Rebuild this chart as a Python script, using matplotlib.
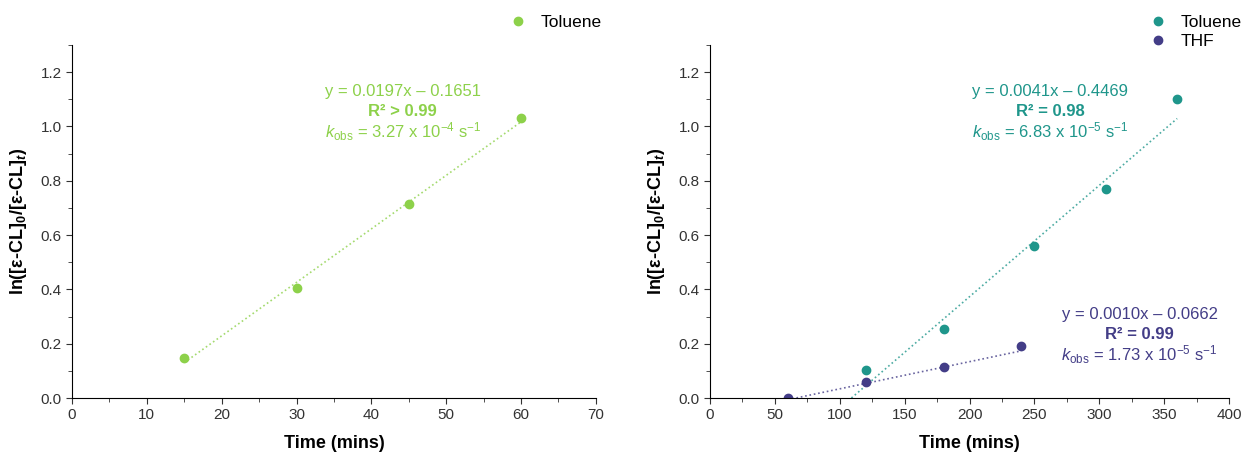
import numpy as np
import matplotlib
matplotlib.use('Agg')
import matplotlib.pyplot as plt
from matplotlib.ticker import MultipleLocator

plt.rcParams['font.family'] = ['Liberation Sans', 'DejaVu Sans']
plt.rcParams['mathtext.fontset'] = 'custom'
plt.rcParams['mathtext.rm'] = 'Liberation Sans'
plt.rcParams['mathtext.it'] = 'Liberation Sans:italic'
plt.rcParams['mathtext.bf'] = 'Liberation Sans:bold'
plt.rcParams['mathtext.bfit'] = 'Liberation Sans:italic:bold'

green = '#8dd14a'
teal = '#1f968b'
purple = '#433d87'

# left panel: toluene
tol_a_t = [15, 30, 45, 60]
tol_a_y = [0.148, 0.405, 0.713, 1.03]
fit_a = (0.0197, -0.1651)

# right panel
tol_b_t = [120, 180, 250, 305, 360]
tol_b_y = [0.105, 0.255, 0.56, 0.77, 1.10]
fit_tol_b = (0.0041, -0.4469)

thf_t = [60, 120, 180, 240]
thf_y = [0.0, 0.06, 0.113, 0.19]
fit_thf = (0.0010, -0.0662)

ylabel = r'ln([ε-CL]$_\mathbf{0}$/[ε-CL]$_\mathbfit{t}$)'

fig = plt.figure(figsize=(12.44, 4.54), dpi=100)
ax1 = fig.add_axes([0.0579, 0.1233, 0.4211, 0.7777])
ax2 = fig.add_axes([0.5707, 0.1233, 0.4173, 0.7777])


def style(ax, xmax, xmaj, xmin):
    for s in ['top', 'right']:
        ax.spines[s].set_visible(False)
    ax.set_xlim(0, xmax)
    ax.set_ylim(0, 1.3)
    ax.xaxis.set_major_locator(MultipleLocator(xmaj))
    ax.xaxis.set_minor_locator(MultipleLocator(xmin))
    ax.yaxis.set_minor_locator(MultipleLocator(0.1))
    ax.set_yticks(np.arange(0, 1.21, 0.2))
    ax.tick_params(which='both', direction='out', labelsize=11, colors='#333333')
    ax.tick_params(which='major', length=4)
    ax.tick_params(which='minor', length=3)
    ax.set_xlabel('Time (mins)', fontsize=13, fontweight='bold', labelpad=9)
    ax.set_ylabel(ylabel, fontsize=13, fontweight='bold', labelpad=8)


def fitline(ax, x0, x1, fit, color):
    xs = np.array([x0, x1])
    ax.plot(xs, fit[0] * xs + fit[1], ':', color=color, lw=1.2, alpha=0.8)


def note(ax, x, y, eq, r2, k, color):
    ax.text(x, y, eq, ha='center', va='center', fontsize=12, color=color)
    ax.text(x, y - 0.074, r2, ha='center', va='center', fontsize=12, fontweight='bold', color=color)
    ax.text(x, y - 0.148, k, ha='center', va='center', fontsize=12, color=color)


leg_kw = dict(bbox_transform=fig.transFigure, frameon=False, fontsize=12.5,
              borderpad=0, borderaxespad=0, handlelength=1.0, handletextpad=0.85,
              labelspacing=0.25, loc='center left')

# left
style(ax1, 70, 10, 5)
fitline(ax1, 15, 60, fit_a, green)
ax1.plot(tol_a_t, tol_a_y, 'o', color=green, ms=6, label='Toluene')
note(ax1, 44.2, 1.13, 'y = 0.0197x – 0.1651', 'R² > 0.99',
     r'$k_{\mathrm{obs}}$ = 3.27 x 10$^{-4}$ s$^{-1}$', green)
ax1.legend(bbox_to_anchor=(509 / 1244, 1 - 22 / 454), **leg_kw)

# right
style(ax2, 400, 50, 25)
fitline(ax2, 109, 360, fit_tol_b, teal)
fitline(ax2, 60, 240, fit_thf, purple)
ax2.plot(tol_b_t, tol_b_y, 'o', color=teal, ms=6, label='Toluene')
ax2.plot(thf_t, thf_y, 'o', color=purple, ms=6, label='THF')
note(ax2, 262, 1.13, 'y = 0.0041x – 0.4469', 'R² = 0.98',
     r'$k_{\mathrm{obs}}$ = 6.83 x 10$^{-5}$ s$^{-1}$', teal)
note(ax2, 331, 0.309, 'y = 0.0010x – 0.0662', 'R² = 0.99',
     r'$k_{\mathrm{obs}}$ = 1.73 x 10$^{-5}$ s$^{-1}$', purple)
ax2.legend(bbox_to_anchor=(1149 / 1244, 1 - 32 / 454), **leg_kw)

fig.savefig('out.png', dpi=100)
